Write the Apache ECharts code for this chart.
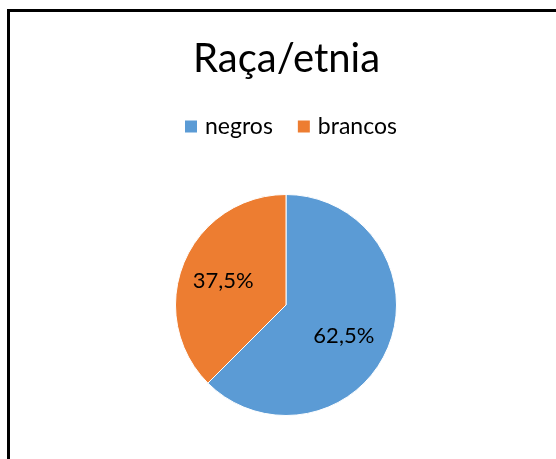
<!DOCTYPE html>
<html>
<head>
<meta charset="utf-8">
<script src="https://cdn.jsdelivr.net/npm/echarts@6/dist/echarts.min.js"></script>
<style>
html,body{margin:0;padding:0;background:#fff;}
#frame{position:absolute;left:7px;top:9px;width:560px;height:460px;border-left:3px solid #000;border-top:3px solid #000;box-sizing:border-box;pointer-events:none;z-index:2;}
#chart{position:absolute;left:0;top:0;width:556px;height:459px;}
</style>
</head>
<body>
<div id="chart"></div>
<div id="frame"></div>
<script>
const titleText = "Raça/etnia";
const categories = ["negros", "brancos"];
const values = [62.5, 37.5];
const colors = ["#5B9BD5", "#ED7D31"];
const labelOffsets = [[4, 9], [-9, -2]];

const chart = echarts.init(document.getElementById('chart'), null, {renderer: 'canvas'});
const font = "Lato, 'Open Sans', sans-serif";
chart.setOption({
  animation: false,
  backgroundColor: '#fff',
  title: {
    text: titleText,
    left: 188,
    top: 34,
    textStyle: {fontFamily: font, fontSize: 40, fontWeight: 'normal', color: '#000'}
  },
  legend: {
    data: categories,
    top: 110,
    left: 178,
    icon: 'rect',
    itemWidth: 14,
    itemHeight: 14,
    itemGap: 23,
    textStyle: {fontFamily: font, fontSize: 23, color: '#000', padding: [0, 0, 0, 2]}
  },
  series: [{
    type: 'pie',
    center: [286, 305],
    radius: 110.5,
    startAngle: 90,
    clockwise: true,
    data: categories.map((c, i) => ({
      name: c,
      value: values[i],
      itemStyle: {color: colors[i]},
      label: {offset: labelOffsets[i]}
    })),
    itemStyle: {borderColor: '#fff', borderWidth: 1},
    label: {
      show: true,
      position: 'inside',
      formatter: p => p.value.toFixed(1).replace('.', ',') + '%',
      fontFamily: font,
      fontSize: 22,
      color: '#000'
    },
    labelLine: {show: false},
    emphasis: {disabled: true}
  }]
});
</script>
</body>
</html>
